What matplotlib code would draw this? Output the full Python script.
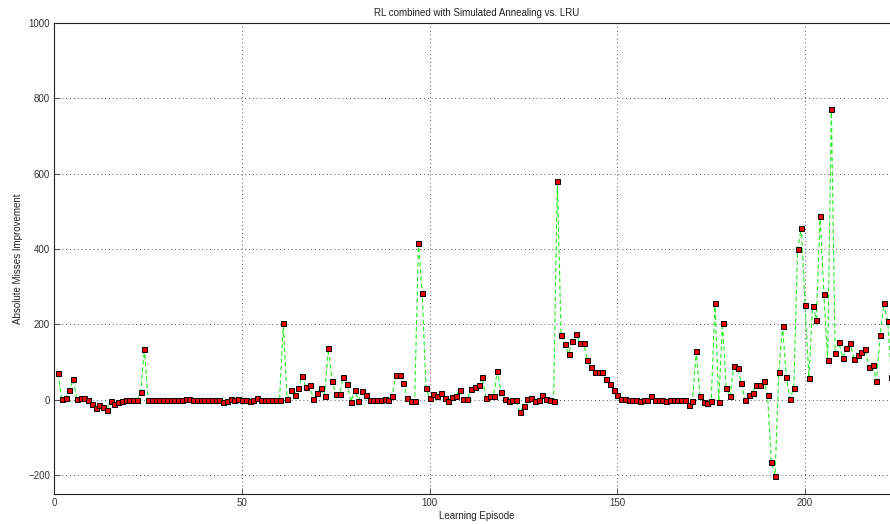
import matplotlib
matplotlib.use('Agg')
import matplotlib.pyplot as plt
import numpy as np

# absolute misses improvement per learning episode (episodes 1..223)
improvement = [
    70, 2, 4, 25, 54, 2, 4, 4, -1, -10,
    -21, -13, -19, -26, -3, -12, -5, -2, 0, 0,
    0, 0, 20, 135, 0, 0, 0, 0, 0, 0,
    0, 0, 0, 0, 2, 2, 0, 0, -1, 0,
    0, 0, -1, 0, -7, -2, 1, -1, 2, 0,
    0, -2, 0, 6, 0, 0, 0, 0, 0, 0,
    204, 2, 25, 13, 31, 63, 35, 39, 3, 18,
    31, 10, 137, 50, 16, 16, 61, 41, -5, 27,
    -2, 23, 13, 0, 0, 0, 0, 2, 0, 10,
    67, 65, 45, 4, -2, -2, 417, 284, 31, 4,
    16, 9, 18, 4, -2, 7, 11, 27, 2, 2,
    28, 35, 38, 60, 6, 11, 9, 76, 22, 3,
    -3, 0, -1, -32, -16, 3, 6, -3, -1, 13,
    3, -1, -3, 580, 172, 147, 122, 156, 174, 152,
    152, 105, 88, 75, 75, 75, 56, 41, 27, 13,
    2, 2, 0, 0, 0, -2, 0, 0, 11, 0,
    0, 0, -2, 0, 0, 0, 0, 0, -13, -2,
    129, 11, -5, -8, -2, 258, -5, 203, 31, 9,
    89, 84, 45, -1, 13, 19, 40, 40, 50, 13,
    -164, -201, 74, 195, 61, 3, 32, 399, 456, 252,
    57, 249, 213, 489, 281, 105, 773, 125, 153, 111,
    137, 152, 109, 118, 126, 136, 87, 93, 50, 172,
    256, 209, 60,
]
episodes = np.arange(1, len(improvement) + 1)

x_ticks = [0, 50, 100, 150, 200]
y_ticks = [-200, 0, 200, 400, 600, 800, 1000]

plt.rcParams['font.family'] = ['Liberation Sans', 'DejaVu Sans']
plt.rcParams['font.size'] = 7

fig = plt.figure(figsize=(8.9, 5.24), dpi=100)
# axes runs slightly past the right edge of the canvas, as in the reference
ax = fig.add_axes([54.3 / 890, 30 / 524, 225 * 3.754 / 890, 471 / 524])

ax.plot(episodes, improvement, linestyle=(0, (4, 2.5)), color='#22ee22', linewidth=0.8,
        marker='s', markersize=3.6, markerfacecolor='#ee0000', markeredgecolor='black',
        markeredgewidth=0.7)

ax.set_xlim(0, 225)
ax.set_ylim(-250, 1000)
ax.set_xticks(x_ticks)
ax.set_yticks(y_ticks)
ax.tick_params(direction='in', length=4, width=0.6, colors='#333333', labelsize=7, pad=3)
ax.grid(True, linestyle=(0, (1, 3)), color='#555555', linewidth=0.7)
for s in ax.spines.values():
    s.set_linewidth(0.8)
    s.set_color('#222222')

ax.set_title('RL combined with Simulated Annealing vs. LRU', fontsize=7, color='#222222', pad=5)
ax.set_xlabel('Learning Episode', fontsize=7, color='#222222', labelpad=2)
ax.set_ylabel('Absolute Misses Improvement', fontsize=7, color='#222222', labelpad=4)

fig.savefig('out.png', dpi=100)
